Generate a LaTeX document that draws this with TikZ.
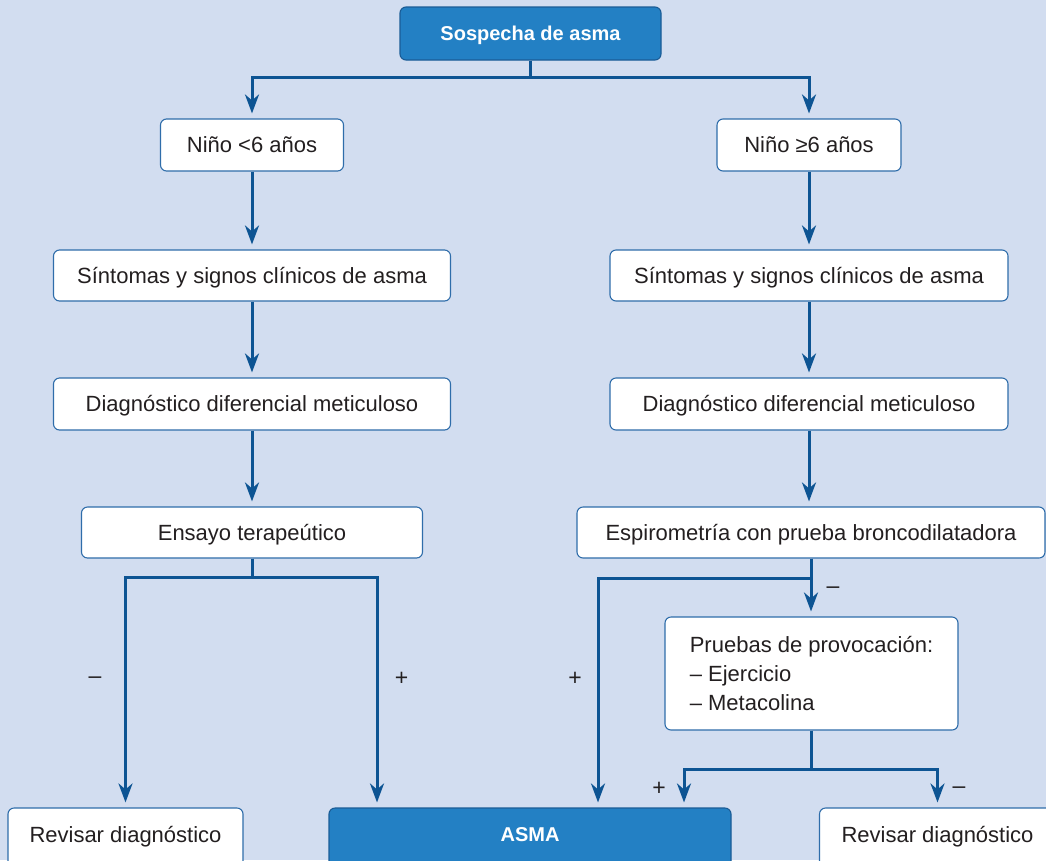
\documentclass[tikz,border=0pt]{standalone}
\usepackage{fontspec}
\setmainfont{Liberation Sans}
\usetikzlibrary{arrows.meta}
\definecolor{bg}{HTML}{D2DDF0}
\definecolor{boxblue}{HTML}{2380C4}
\definecolor{boxedge}{HTML}{1A5C96}
\definecolor{wedge}{HTML}{2F6DAA}
\definecolor{linec}{HTML}{0D5493}
\definecolor{txt}{HTML}{231F20}
\begin{document}
\begin{tikzpicture}[x=1pt,y=-1pt,
  basebox/.style={rounded corners=6pt, inner sep=0pt},
  wbox/.style={basebox, draw=wedge, line width=1.1pt, fill=white, text=txt,
    font=\fontsize{22}{29}\selectfont, text height=15.75pt, text depth=0pt},
  wlow/.style={basebox, draw=wedge, line width=1.1pt, fill=white, text=txt,
    font=\fontsize{22}{29}\selectfont, anchor=base, text height=34pt, text depth=30pt},
  bbox/.style={basebox, draw=boxedge, line width=1.1pt, fill=boxblue, text=white,
    font=\fontsize{20}{24}\selectfont\bfseries, text height=14.3pt, text depth=0pt},
  blow/.style={basebox, draw=boxedge, line width=1.1pt, fill=boxblue, text=white,
    font=\fontsize{20}{24}\selectfont\bfseries, anchor=base, text height=33pt, text depth=30pt},
  conn/.style={draw=linec, line width=3pt, line join=miter,
    -{Stealth[length=19pt,width=14pt,inset=6pt]}, shorten >=5pt},
  lbl/.style={font=\fontsize{23}{26}\selectfont, text=txt, anchor=base, inner sep=0pt}]
\fill[bg] (0,0) rectangle (1046,860);
\useasboundingbox (0,0) rectangle (1046,860);

% nodes
\node[bbox, minimum width=261pt, minimum height=53pt] (top) at (530.5,33.5) {Sospecha de asma};
\node[wbox, minimum width=183pt, minimum height=52pt] (n1) at (252,145) {Niño <6 años};
\node[wbox, minimum width=184pt, minimum height=52pt] (n2) at (809,145) {Niño ≥6 años};
\node[wbox, minimum width=397pt, minimum height=51pt] (s1) at (252,275.5) {Síntomas y signos clínicos de asma};
\node[wbox, minimum width=398pt, minimum height=51pt] (s2) at (809,275.5) {Síntomas y signos clínicos de asma};
\node[wbox, minimum width=397pt, minimum height=52pt] (d1) at (252,404) {Diagnóstico diferencial meticuloso};
\node[wbox, minimum width=398pt, minimum height=52pt] (d2) at (809,404) {Diagnóstico diferencial meticuloso};
\node[wbox, minimum width=341pt, minimum height=51pt] (e1) at (252,532.5) {Ensayo terapeútico};
\node[wbox, minimum width=468pt, minimum height=51pt] (e2) at (811,532.5) {Espirometría con prueba broncodilatadora};
\node[basebox, draw=wedge, line width=1.1pt, fill=white, text=txt,
  font=\fontsize{22}{29}\selectfont, align=left,
  minimum width=293pt, minimum height=113pt] (p) at (811.5,673.5)
  {Pruebas de provocación:\\– Ejercicio\\– Metacolina};
\node[wlow, minimum width=235pt] (r1) at (125.5,842) {Revisar diagnóstico};
\node[blow, minimum width=402pt] (asma) at (530,841) {ASMA};
\node[wlow, minimum width=236pt] (r2) at (937.5,842) {Revisar diagnóstico};

% connectors
\draw[conn] (top.south) -- ++(0,17) -| (n1.north);
\draw[conn] (top.south) -- ++(0,17) -| (n2.north);
\draw[conn] (n1.south) -- (s1.north);
\draw[conn] (n2.south) -- (s2.north);
\draw[conn] (s1.south) -- (d1.north);
\draw[conn] (s2.south) -- (d2.north);
\draw[conn] (d1.south) -- (e1.north);
\draw[conn] (d2.south) -- (d2.south |- e2.north);
\draw[conn] (e1.south) -- ++(0,19) -| (r1.north);
\draw[conn] (e1.south) -- ++(0,19) -| ([xshift=-153pt]asma.north);
\draw[conn] (e2.south) -- ++(0,20) -| ([xshift=68pt]asma.north);
\draw[conn] (e2.south) -- (e2.south |- p.north);
\draw[conn] (p.south) -- ++(0,39) -| ([xshift=154pt]asma.north);
\draw[conn] (p.south) -- ++(0,39) -| (r2.north);

% labels
\node[lbl] (m1) at (95,683) {–};
\node[lbl] (p1) at (401.5,685) {+};
\node[lbl] (p2) at (575,685) {+};
\node[lbl] (m2) at (833,593) {–};
\node[lbl] (p3) at (659,795) {+};
\node[lbl] (m3) at (959,793) {–};
\end{tikzpicture}
\end{document}
